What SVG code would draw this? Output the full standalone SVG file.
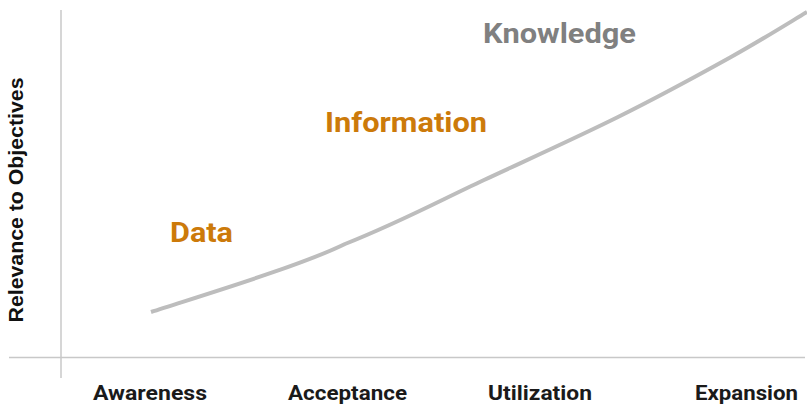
<svg xmlns="http://www.w3.org/2000/svg" width="807" height="406" viewBox="0 0 807 406">
<style>
.axis{stroke:#c8c8c8;stroke-width:1.5;fill:none}
.curve{stroke:#bdbdbd;stroke-width:4;fill:none;stroke-linecap:butt}
.stage{font-family:Roboto,"Liberation Sans",sans-serif;font-weight:bold;font-size:28px}
.orange{fill:#cc7a0a}
.gray{fill:#808080}
.xl{font-family:Roboto,"Liberation Sans",sans-serif;font-weight:bold;font-size:21px;fill:#1a1a1a}
.yl{font-family:"Liberation Sans",Arial,sans-serif;font-weight:bold;font-size:20px;fill:#111}
</style>
<rect width="807" height="406" fill="#ffffff"/>
<g id="axes">
<line class="axis" x1="61" y1="10" x2="61" y2="378"/>
<line class="axis" x1="9" y1="357.5" x2="805" y2="357.5"/>
</g>
<g id="connectors">
<path class="curve" d="M151,312 C200,296 300,266 345,244 C400.5,222 438.5,201.2 484,180 C529.5,158.8 576.8,137.5 618,117 C659.2,96.5 699.5,74.5 731,57 C762.5,39.5 794.3,19.5 807,12"/>
</g>
<g id="y-label"><text class="yl" transform="translate(23,200) rotate(-90)" text-anchor="middle" textLength="245" lengthAdjust="spacingAndGlyphs">Relevance to Objectives</text></g>
<g id="data"><text class="stage orange" x="170" y="242" textLength="63" lengthAdjust="spacingAndGlyphs">Data</text></g>
<g id="information"><text class="stage orange" x="325" y="132" textLength="162" lengthAdjust="spacingAndGlyphs">Information</text></g>
<g id="knowledge"><text class="stage gray" x="483" y="43" textLength="153" lengthAdjust="spacingAndGlyphs">Knowledge</text></g>
<g id="awareness"><text class="xl" x="93" y="400" textLength="114" lengthAdjust="spacingAndGlyphs">Awareness</text></g>
<g id="acceptance"><text class="xl" x="288" y="400" textLength="119" lengthAdjust="spacingAndGlyphs">Acceptance</text></g>
<g id="utilization"><text class="xl" x="488" y="400" textLength="104" lengthAdjust="spacingAndGlyphs">Utilization</text></g>
<g id="expansion"><text class="xl" x="695" y="400" textLength="103" lengthAdjust="spacingAndGlyphs">Expansion</text></g>
</svg>
